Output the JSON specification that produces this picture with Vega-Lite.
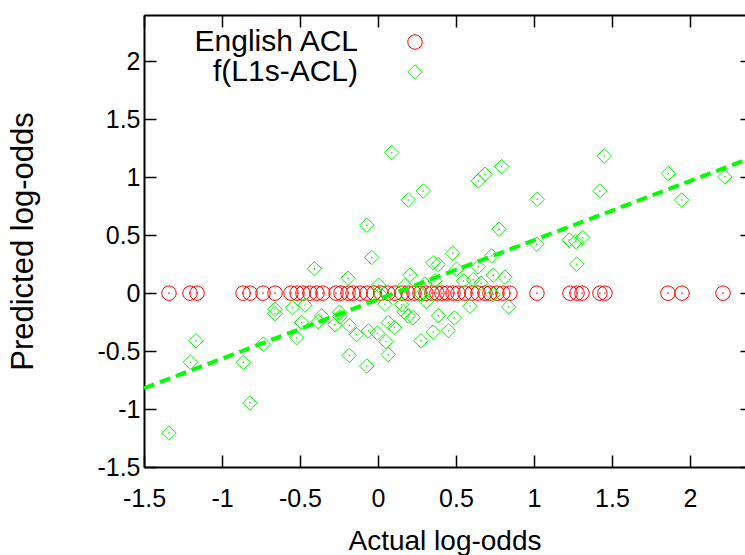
{
  "$schema": "https://vega.github.io/schema/vega-lite/v6.json",
  "autosize": {"type": "none"},
  "padding": {"left": 144, "top": 15, "right": 0, "bottom": 88},
  "width": 601,
  "height": 452,
  "config": {
    "font": "Liberation Sans",
    "view": {"stroke": null},
    "axis": {"grid": false, "labelFlush": false, "domainColor": "#000000", "domainWidth": 2, "tickColor": "#000000", "tickWidth": 1.5, "labelColor": "#000000", "titleColor": "#000000", "titleFontWeight": "normal"}
  },
  "datasets": {
    "pts": [
      {"s": "English ACL", "x": -1.34, "y": 0}, {"s": "English ACL", "x": -1.205, "y": 0}, {"s": "English ACL", "x": -1.16, "y": 0},
      {"s": "English ACL", "x": -0.865, "y": 0}, {"s": "English ACL", "x": -0.82, "y": 0}, {"s": "English ACL", "x": -0.737, "y": 0},
      {"s": "English ACL", "x": -0.66, "y": 0}, {"s": "English ACL", "x": -0.558, "y": 0}, {"s": "English ACL", "x": -0.519, "y": 0},
      {"s": "English ACL", "x": -0.481, "y": 0}, {"s": "English ACL", "x": -0.436, "y": 0}, {"s": "English ACL", "x": -0.391, "y": 0},
      {"s": "English ACL", "x": -0.353, "y": 0}, {"s": "English ACL", "x": -0.269, "y": 0}, {"s": "English ACL", "x": -0.237, "y": 0},
      {"s": "English ACL", "x": -0.192, "y": 0}, {"s": "English ACL", "x": -0.16, "y": 0}, {"s": "English ACL", "x": -0.115, "y": 0},
      {"s": "English ACL", "x": -0.071, "y": 0}, {"s": "English ACL", "x": -0.026, "y": 0}, {"s": "English ACL", "x": 0.019, "y": 0},
      {"s": "English ACL", "x": 0.064, "y": 0}, {"s": "English ACL", "x": 0.109, "y": 0}, {"s": "English ACL", "x": 0.154, "y": 0},
      {"s": "English ACL", "x": 0.192, "y": 0}, {"s": "English ACL", "x": 0.231, "y": 0}, {"s": "English ACL", "x": 0.269, "y": 0},
      {"s": "English ACL", "x": 0.308, "y": 0}, {"s": "English ACL", "x": 0.346, "y": 0}, {"s": "English ACL", "x": 0.378, "y": 0},
      {"s": "English ACL", "x": 0.41, "y": 0}, {"s": "English ACL", "x": 0.442, "y": 0}, {"s": "English ACL", "x": 0.481, "y": 0},
      {"s": "English ACL", "x": 0.513, "y": 0}, {"s": "English ACL", "x": 0.558, "y": 0}, {"s": "English ACL", "x": 0.603, "y": 0},
      {"s": "English ACL", "x": 0.641, "y": 0}, {"s": "English ACL", "x": 0.686, "y": 0}, {"s": "English ACL", "x": 0.718, "y": 0},
      {"s": "English ACL", "x": 0.763, "y": 0}, {"s": "English ACL", "x": 0.801, "y": 0}, {"s": "English ACL", "x": 0.846, "y": 0},
      {"s": "English ACL", "x": 1.019, "y": 0}, {"s": "English ACL", "x": 1.231, "y": 0}, {"s": "English ACL", "x": 1.276, "y": 0},
      {"s": "English ACL", "x": 1.308, "y": 0}, {"s": "English ACL", "x": 1.423, "y": 0}, {"s": "English ACL", "x": 1.455, "y": 0},
      {"s": "English ACL", "x": 1.859, "y": 0}, {"s": "English ACL", "x": 1.949, "y": 0}, {"s": "English ACL", "x": 2.212, "y": 0},
      {"s": "f(L1s-ACL)", "x": -1.34, "y": -1.207}, {"s": "f(L1s-ACL)", "x": -1.202, "y": -0.595}, {"s": "f(L1s-ACL)", "x": -1.167, "y": -0.411},
      {"s": "f(L1s-ACL)", "x": -0.863, "y": -0.597}, {"s": "f(L1s-ACL)", "x": -0.821, "y": -0.948}, {"s": "f(L1s-ACL)", "x": -0.735, "y": -0.44},
      {"s": "f(L1s-ACL)", "x": -0.66, "y": -0.138}, {"s": "f(L1s-ACL)", "x": -0.66, "y": -0.177}, {"s": "f(L1s-ACL)", "x": -0.548, "y": -0.125},
      {"s": "f(L1s-ACL)", "x": -0.522, "y": -0.384}, {"s": "f(L1s-ACL)", "x": -0.489, "y": -0.253}, {"s": "f(L1s-ACL)", "x": -0.468, "y": -0.103},
      {"s": "f(L1s-ACL)", "x": -0.407, "y": 0.211}, {"s": "f(L1s-ACL)", "x": -0.383, "y": -0.246}, {"s": "f(L1s-ACL)", "x": -0.361, "y": -0.196},
      {"s": "f(L1s-ACL)", "x": -0.276, "y": -0.272}, {"s": "f(L1s-ACL)", "x": -0.247, "y": -0.164}, {"s": "f(L1s-ACL)", "x": -0.244, "y": -0.203},
      {"s": "f(L1s-ACL)", "x": -0.192, "y": 0.129}, {"s": "f(L1s-ACL)", "x": -0.183, "y": -0.28}, {"s": "f(L1s-ACL)", "x": -0.184, "y": -0.537},
      {"s": "f(L1s-ACL)", "x": -0.137, "y": -0.358}, {"s": "f(L1s-ACL)", "x": -0.072, "y": 0.586}, {"s": "f(L1s-ACL)", "x": -0.072, "y": -0.629},
      {"s": "f(L1s-ACL)", "x": -0.062, "y": -0.325}, {"s": "f(L1s-ACL)", "x": -0.04, "y": 0.308}, {"s": "f(L1s-ACL)", "x": -0.004, "y": -0.345},
      {"s": "f(L1s-ACL)", "x": 0.004, "y": 0.069}, {"s": "f(L1s-ACL)", "x": 0.013, "y": -0.009}, {"s": "f(L1s-ACL)", "x": 0.045, "y": -0.095},
      {"s": "f(L1s-ACL)", "x": 0.051, "y": -0.418}, {"s": "f(L1s-ACL)", "x": 0.066, "y": -0.253}, {"s": "f(L1s-ACL)", "x": 0.066, "y": -0.53},
      {"s": "f(L1s-ACL)", "x": 0.088, "y": 1.213}, {"s": "f(L1s-ACL)", "x": 0.106, "y": -0.297}, {"s": "f(L1s-ACL)", "x": 0.152, "y": -0.099},
      {"s": "f(L1s-ACL)", "x": 0.167, "y": -0.161}, {"s": "f(L1s-ACL)", "x": 0.173, "y": 0.065}, {"s": "f(L1s-ACL)", "x": 0.194, "y": 0.804},
      {"s": "f(L1s-ACL)", "x": 0.194, "y": -0.198}, {"s": "f(L1s-ACL)", "x": 0.205, "y": 0.155}, {"s": "f(L1s-ACL)", "x": 0.226, "y": -0.211},
      {"s": "f(L1s-ACL)", "x": 0.276, "y": -0.411}, {"s": "f(L1s-ACL)", "x": 0.28, "y": -0.009}, {"s": "f(L1s-ACL)", "x": 0.29, "y": 0.882},
      {"s": "f(L1s-ACL)", "x": 0.301, "y": 0.078}, {"s": "f(L1s-ACL)", "x": 0.311, "y": -0.073}, {"s": "f(L1s-ACL)", "x": 0.354, "y": 0.263},
      {"s": "f(L1s-ACL)", "x": 0.354, "y": -0.336}, {"s": "f(L1s-ACL)", "x": 0.365, "y": 0.106}, {"s": "f(L1s-ACL)", "x": 0.387, "y": 0.246},
      {"s": "f(L1s-ACL)", "x": 0.387, "y": -0.194}, {"s": "f(L1s-ACL)", "x": 0.452, "y": -0.323}, {"s": "f(L1s-ACL)", "x": 0.479, "y": 0.345},
      {"s": "f(L1s-ACL)", "x": 0.49, "y": -0.214}, {"s": "f(L1s-ACL)", "x": 0.504, "y": 0.207}, {"s": "f(L1s-ACL)", "x": 0.548, "y": 0.106},
      {"s": "f(L1s-ACL)", "x": 0.59, "y": -0.112}, {"s": "f(L1s-ACL)", "x": 0.611, "y": 0.116}, {"s": "f(L1s-ACL)", "x": 0.643, "y": 0.968},
      {"s": "f(L1s-ACL)", "x": 0.643, "y": 0.228}, {"s": "f(L1s-ACL)", "x": 0.66, "y": 0.086}, {"s": "f(L1s-ACL)", "x": 0.686, "y": 1.026},
      {"s": "f(L1s-ACL)", "x": 0.729, "y": 0.322}, {"s": "f(L1s-ACL)", "x": 0.739, "y": 0.155}, {"s": "f(L1s-ACL)", "x": 0.739, "y": -0.013},
      {"s": "f(L1s-ACL)", "x": 0.776, "y": 0.552}, {"s": "f(L1s-ACL)", "x": 0.793, "y": 1.092}, {"s": "f(L1s-ACL)", "x": 0.814, "y": 0.138},
      {"s": "f(L1s-ACL)", "x": 0.838, "y": -0.118}, {"s": "f(L1s-ACL)", "x": 1.018, "y": 0.422}, {"s": "f(L1s-ACL)", "x": 1.021, "y": 0.81},
      {"s": "f(L1s-ACL)", "x": 1.226, "y": 0.459}, {"s": "f(L1s-ACL)", "x": 1.269, "y": 0.444}, {"s": "f(L1s-ACL)", "x": 1.274, "y": 0.25},
      {"s": "f(L1s-ACL)", "x": 1.312, "y": 0.48}, {"s": "f(L1s-ACL)", "x": 1.423, "y": 0.882}, {"s": "f(L1s-ACL)", "x": 1.451, "y": 1.183},
      {"s": "f(L1s-ACL)", "x": 1.861, "y": 1.032}, {"s": "f(L1s-ACL)", "x": 1.947, "y": 0.804}, {"s": "f(L1s-ACL)", "x": 2.224, "y": 1.003}
    ],
    "fit": [{"x": -1.5, "y": -0.82}, {"x": 2.353, "y": 1.148}]
  },
  "layer": [
    {
      "data": {"name": "pts"},
      "mark": {"type": "point", "filled": false, "size": 210, "strokeWidth": 1, "opacity": 1},
      "encoding": {
        "x": {"field": "x", "type": "quantitative", "scale": {"domain": [-1.5, 2.353], "nice": false, "zero": false},
          "axis": {"orient": "bottom", "values": [-1.5, -1, -0.5, 0, 0.5, 1, 1.5, 2], "tickSize": -12, "labelPadding": 31, "labelFontSize": 25, "labelExpr": "'' + datum.value", "title": "Actual log-odds", "titleFontSize": 28, "titleBaseline": "alphabetic", "titleY": 82}},
        "y": {"field": "y", "type": "quantitative", "scale": {"domain": [-1.5, 2.4], "nice": false, "zero": false},
          "axis": {"orient": "left", "values": [-1.5, -1, -0.5, 0, 0.5, 1, 1.5, 2], "tickSize": -12, "labelPadding": 16, "labelFontSize": 25, "labelExpr": "'' + datum.value", "title": "Predicted log-odds", "titleFontSize": 31, "titleBaseline": "middle", "titleX": -121}},
        "color": {"field": "s", "type": "nominal", "scale": {"domain": ["English ACL", "f(L1s-ACL)"], "range": ["#ff0000", "#00ff00"]},
          "legend": {"title": null, "orient": "none", "legendX": 256, "legendY": 12, "padding": 0, "labelAlign": "right", "labelOffset": -72, "labelFontSize": 30, "labelColor": "#000000", "symbolSize": 210, "symbolStrokeWidth": 1, "symbolFillColor": "transparent", "rowPadding": 0, "labelLimit": 400}},
        "shape": {"field": "s", "type": "nominal", "scale": {"domain": ["English ACL", "f(L1s-ACL)"], "range": ["circle", "diamond"]}}
      }
    },
    {
      "data": {"name": "pts"},
      "transform": [{"filter": "datum.s === 'English ACL'"}],
      "mark": {"type": "point", "filled": true, "size": 2, "shape": "square", "color": "#ff0000", "opacity": 1},
      "encoding": {
        "x": {"field": "x", "type": "quantitative", "axis": null},
        "y": {"field": "y", "type": "quantitative", "axis": null}
      }
    },
    {
      "data": {"name": "pts"},
      "transform": [{"filter": "datum.s !== 'English ACL'"}],
      "mark": {"type": "point", "filled": true, "size": 2, "shape": "square", "color": "#00ff00", "opacity": 1},
      "encoding": {
        "x": {"field": "x", "type": "quantitative", "axis": null},
        "y": {"field": "y", "type": "quantitative", "axis": null}
      }
    },
    {
      "data": {"name": "fit"},
      "mark": {"type": "line", "color": "#00ff00", "strokeWidth": 4, "strokeDash": [11, 6], "clip": true},
      "encoding": {
        "x": {"field": "x", "type": "quantitative",
          "axis": {"orient": "top", "values": [-1.5, -1, -0.5, 0, 0.5, 1, 1.5, 2], "tickSize": -12, "labels": false, "title": null}},
        "y": {"field": "y", "type": "quantitative",
          "axis": {"orient": "right", "values": [-1.5, -1, -0.5, 0, 0.5, 1, 1.5, 2], "tickSize": -5, "domain": false, "labels": false, "title": null}}
      }
    }
  ],
  "resolve": {"axis": {"x": "independent", "y": "independent"}}
}
